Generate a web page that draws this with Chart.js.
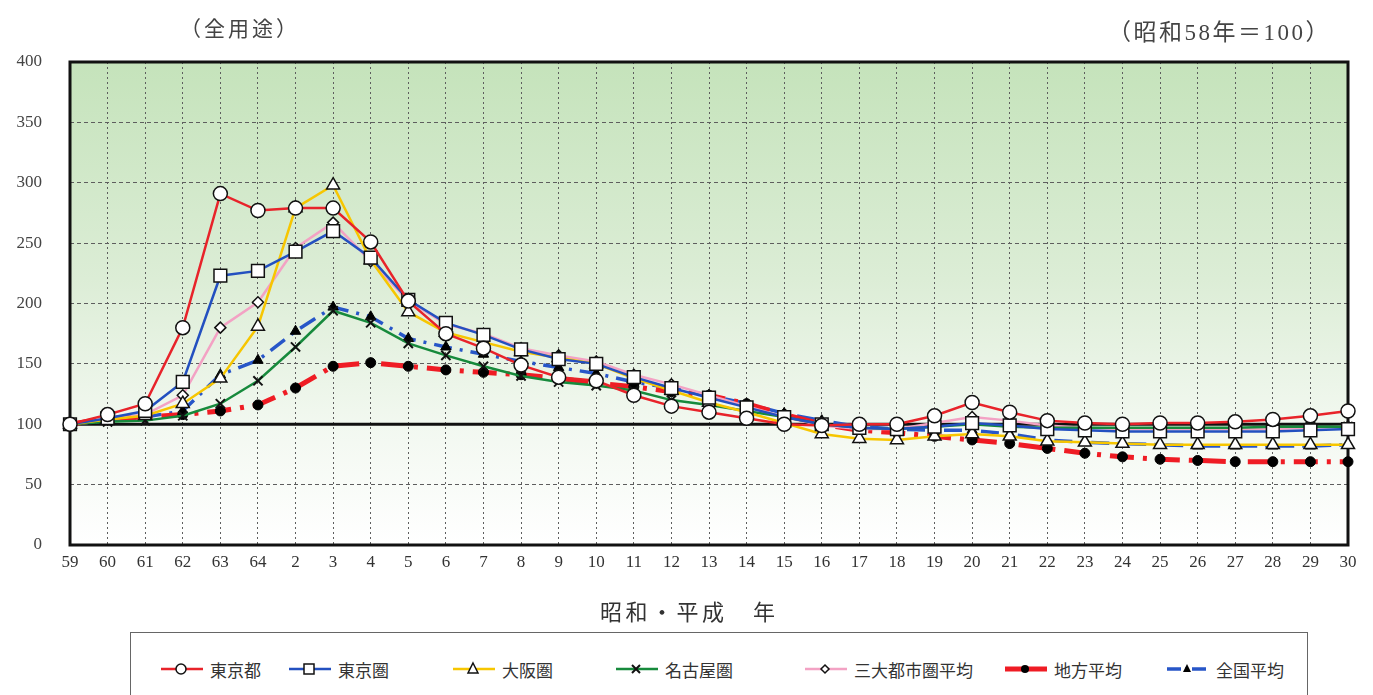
<!DOCTYPE html>
<html lang="ja">
<head>
<meta charset="utf-8">
<script src="https://cdn.jsdelivr.net/npm/chart.js@4"></script>
<style>
  html, body { margin:0; padding:0; background:#fff; }
  #wrap { position:relative; width:1373px; height:695px; overflow:hidden; }
  #wrap canvas { position:absolute; left:0; top:0; }
  .txt { position:absolute; font-family:"Liberation Serif","Noto Sans CJK JP",serif; color:#444; white-space:nowrap; }
  #legend { position:absolute; left:130px; top:632px; width:1178px; height:90px; border:1.5px solid #666; box-sizing:border-box; background:#fff; }
  .item { position:absolute; top:25px; height:22px; display:flex; align-items:center; font-family:"Noto Sans CJK JP",sans-serif; font-size:17px; color:#333; }
  .item svg { margin-right:5px; }
</style>
</head>
<body>
<div id="wrap">
  <canvas id="c" width="1373" height="695"></canvas>
  <div class="txt" style="left:180px; top:12px; font-size:21px; letter-spacing:3px;">（全用途）</div>
  <div class="txt" style="left:1108px; top:13px; font-size:23px; letter-spacing:2.5px;">（昭和58年＝100）</div>
  <div class="txt" style="left:600px; top:594px; font-size:22px; letter-spacing:3.5px; color:#333;">昭和・平成　年</div>
  <div id="legend"></div>
</div>
<script>
// ---- data ----
const categories = ['59','60','61','62','63','64','2','3','4','5','6','7','8','9','10','11','12','13','14','15','16','17','18','19','20','21','22','23','24','25','26','27','28','29','30'];
const seriesNames = ['東京都','東京圏','大阪圏','名古屋圏','三大都市圏平均','地方平均','全国平均'];
const tokyoTo  = [100,108,117,180,291,277,279,279,251,202,175,163,149,139,136,124,115,110,105,100,99,100,100,107,118,110,103,101,100,101,101,102,104,107,111];
const tokyoKen = [100,105,111,135,223,227,243,260,238,203,184,174,162,154,150,139,130,122,114,106,100,97,96,98,101,99,96,95,94,94,94,94,94,95,96];
const osakaKen = [100,104,107,117,138,181,279,298,236,193,176,168,160,155,150,138,128,118,110,101,92,88,87,90,92,90,86,85,84,83,83,83,83,83,83];
const nagoyaKen= [100,102,103,107,117,136,164,194,184,167,157,148,140,135,132,128,120,116,111,106,100,97,96,98,100,98,97,97,97,97,97,97,98,98,98];
const sandai   = [100,104,108,124,180,201,246,267,235,202,183,175,163,157,152,141,133,124,115,106,99,96,96,101,106,103,99,97,96,96,96,96,96,97,98];
const chiho    = [100,105,106,108,111,116,130,148,151,148,145,143,141,138,134,131,127,124,117,108,100,95,93,90,87,84,80,76,73,71,70,69,69,69,69];
const zenkoku  = [100,103,106,111,141,153,177,197,189,171,164,158,152,147,142,135,130,124,117,109,103,98,96,95,95,92,87,85,84,83,82,82,82,82,83];
const yTicks = [0,50,100,150,200,250,300,350,400];
const baseValue = 100;

// ---- styles ----
const styles = [
  {color:'#e8232a', width:2.5, dash:[], point:'circle', r:7, fill:'#fff', pb:'#111', pbw:1.5},
  {color:'#2350c0', width:2.5, dash:[], point:'rect', r:9, fill:'#fff', pb:'#111', pbw:1.5},
  {color:'#f7c600', width:2.5, dash:[], point:'triangle', r:7.5, fill:'#fff', pb:'#111', pbw:1.5},
  {color:'#178a3c', width:2.5, dash:[], point:'crossRot', r:6.5, fill:'#111', pb:'#111', pbw:2},
  {color:'#f3a2c4', width:2.5, dash:[], point:'rectRot', r:5.5, fill:'#fff', pb:'#111', pbw:1.5},
  {color:'#ef1c24', width:5, dash:[24,9,4,9], point:'circle', r:5, fill:'#000', pb:'#000', pbw:1},
  {color:'#2756c8', width:3.5, dash:[18,8,3,8], point:'triangle', r:6, fill:'#000', pb:'#000', pbw:1}
];
const allData = [tokyoTo, tokyoKen, osakaKen, nagoyaKen, sandai, chiho, zenkoku];

const datasets = allData.map((d,i)=>({
  label: seriesNames[i],
  data: d,
  borderColor: styles[i].color,
  borderWidth: styles[i].width,
  borderDash: styles[i].dash,
  pointStyle: styles[i].point,
  pointRadius: styles[i].r,
  pointBackgroundColor: styles[i].fill,
  pointBorderColor: styles[i].pb,
  pointBorderWidth: styles[i].pbw,
  tension: 0,
  fill: false,
  clip: false
}));

const framePlugin = {
  id:'frame',
  beforeDraw(chart){
    const {ctx, chartArea:a} = chart;
    const g = ctx.createLinearGradient(0,a.top,0,a.bottom);
    g.addColorStop(0,'#c5e3bb');
    g.addColorStop(0.45,'#dcedd6');
    g.addColorStop(0.75,'#f2f8f0');
    g.addColorStop(1,'#ffffff');
    ctx.save();
    ctx.fillStyle = g;
    ctx.fillRect(a.left,a.top,a.right-a.left,a.bottom-a.top);
    ctx.restore();
  },
  beforeDatasetsDraw(chart){
    const {ctx, chartArea:a} = chart;
    const y = chart.scales.y.getPixelForValue(baseValue);
    ctx.save();
    ctx.strokeStyle = '#111';
    ctx.lineWidth = 3;
    ctx.beginPath(); ctx.moveTo(a.left,y); ctx.lineTo(a.right,y); ctx.stroke();
    ctx.strokeRect(a.left,a.top,a.right-a.left,a.bottom-a.top);
    ctx.restore();
  }
};

new Chart(document.getElementById('c'), {
  type:'line',
  data:{ labels:categories, datasets },
  options:{
    responsive:false,
    animation:false,
    events:[],
    layout:{ padding:{ top:62, right:25, left:0, bottom:0 } },
    plugins:{ legend:{display:false}, tooltip:{enabled:false}, title:{display:false} },
    scales:{
      x:{
        type:'category',
        offset:false,
        afterFit(s){ s.height = 150; },
        grid:{ color:'#5e5e5e', lineWidth:1, drawTicks:false },
        border:{ display:false, dash:[2,3] },
        ticks:{ color:'#333', padding:7, maxRotation:0, autoSkip:false, font:{ family:'"Liberation Serif", serif', size:17 } }
      },
      y:{
        min:0, max:400,
        afterFit(s){ s.width = 70; },
        afterBuildTicks(s){ s.ticks = yTicks.map(v=>({value:v})); },
        grid:{ color:'#5e5e5e', lineWidth:1, drawTicks:false },
        border:{ display:false, dash:[4,3] },
        ticks:{ color:'#444', padding:28, font:{ family:'"Liberation Serif", serif', size:17 } }
      }
    }
  },
  plugins:[framePlugin]
});

// ---- legend (HTML) ----
const legendX = [28, 156, 320, 483, 672, 872, 1034];
const legend = document.getElementById('legend');
function markerSvg(st, i){
  const cx = 22, cy = 11;
  let line = `<line x1="2" y1="${cy}" x2="44" y2="${cy}" stroke="${st.color}" stroke-width="${i===5?5:(i===6?3.5:2.5)}" ${i===6?'stroke-dasharray="14 4 3 4"':''}/>`;
  let m = '';
  const f = st.fill, b = st.pb;
  switch(i){
    case 0: m = `<circle cx="${cx}" cy="${cy}" r="5" fill="${f}" stroke="${b}" stroke-width="1.5"/>`; break;
    case 1: m = `<rect x="${cx-5}" y="${cy-5}" width="10" height="10" fill="${f}" stroke="${b}" stroke-width="1.5"/>`; break;
    case 2: m = `<polygon points="${cx},${cy-6} ${cx+5},${cy+4} ${cx-5},${cy+4}" fill="${f}" stroke="${b}" stroke-width="1.5"/>`; break;
    case 3: m = `<path d="M${cx-4} ${cy-4} L${cx+4} ${cy+4} M${cx+4} ${cy-4} L${cx-4} ${cy+4}" stroke="${b}" stroke-width="2"/>`; break;
    case 4: m = `<polygon points="${cx},${cy-4} ${cx+4},${cy} ${cx},${cy+4} ${cx-4},${cy}" fill="${f}" stroke="${b}" stroke-width="1.5"/>`; break;
    case 5: m = `<circle cx="${cx}" cy="${cy}" r="4" fill="#000"/>`; break;
    case 6: m = `<polygon points="${cx},${cy-5} ${cx+4},${cy+3} ${cx-4},${cy+3}" fill="#000"/>`; break;
  }
  return `<svg width="46" height="22" viewBox="0 0 46 22">${line}${m}</svg>`;
}
seriesNames.forEach((n,i)=>{
  const d = document.createElement('div');
  d.className = 'item';
  d.style.left = legendX[i] + 'px';
  d.innerHTML = markerSvg(styles[i], i) + '<span>' + n + '</span>';
  legend.appendChild(d);
});
</script>
</body>
</html>
